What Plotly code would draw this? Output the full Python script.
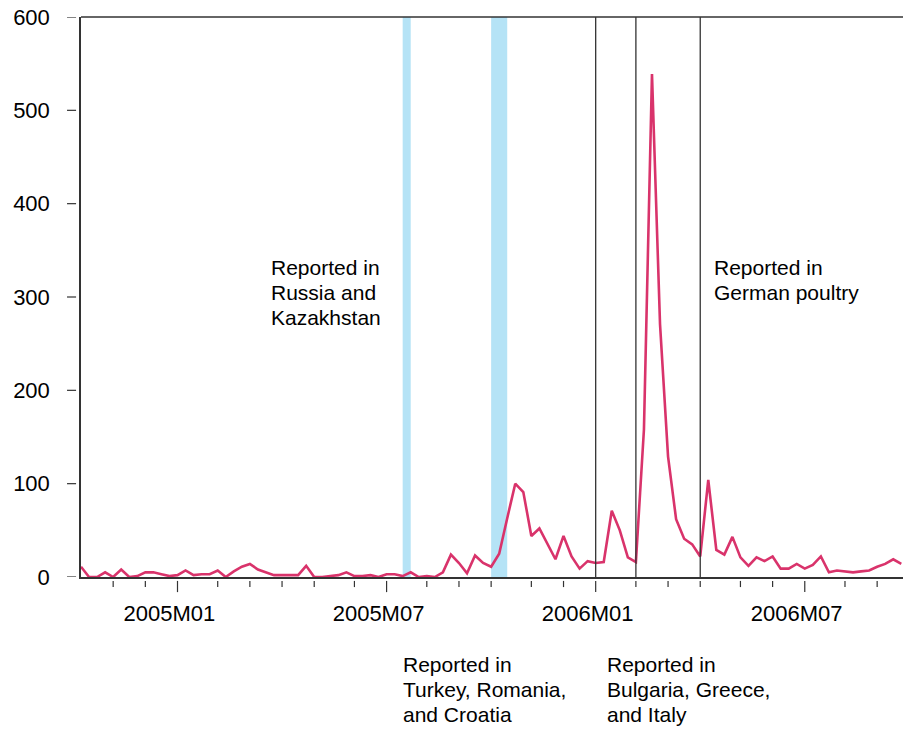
import pandas as pd
import plotly.graph_objects as go

# Weekly data (weeks starting Sunday), Oct 2004 - Sep 2006
start_week = "2004-10-10"
values = [11, 0, 0, 5, 0, 8, 0, 1, 5, 5, 3, 1, 2, 7, 2, 3, 3, 7, 0, 6,
          11, 14, 8, 5, 2, 2, 2, 2, 12, 0, 0, 1, 2, 5, 1, 1, 2, 0, 3, 3,
          1, 5, 0, 1, 0, 5, 24, 15, 4, 23, 15, 11, 25, 63, 100, 91, 44, 52, 36, 19,
          44, 22, 9, 17, 15, 16, 71, 50, 21, 16, 158, 539, 271, 129, 62, 41, 35, 22, 104, 29,
          24, 43, 21, 12, 21, 17, 22, 9, 9, 14, 9, 13, 22, 5, 7, 6, 5, 6, 7, 11,
          14, 19, 14]
dates = pd.date_range(start_week, periods=len(values), freq="7D")

month_ticks = ["2004-11-07", "2004-12-05", "2005-01-02", "2005-02-06", "2005-03-06",
               "2005-04-03", "2005-05-01", "2005-06-05", "2005-07-03", "2005-08-07",
               "2005-09-04", "2005-10-02", "2005-11-06", "2005-12-04", "2006-01-01",
               "2006-02-05", "2006-03-05", "2006-04-02", "2006-05-07", "2006-06-04",
               "2006-07-02", "2006-08-06", "2006-09-03"]
major_ticks = ["2005-01-02", "2005-07-03", "2006-01-01", "2006-07-02"]
major_labels = ["2005M01", "2005M07", "2006M01", "2006M07"]
y_ticks = [0, 100, 200, 300, 400, 500, 600]

bands = [("2005-07-17", "2005-07-24"), ("2005-10-02", "2005-10-16")]
event_lines = ["2006-01-01", "2006-02-05", "2006-04-02"]

notes = [
    (["Reported in", "Russia and", "Kazakhstan"], 0.2287, 0.552),
    (["Reported in", "German poultry"], 0.7676, 0.552),
    (["Reported in", "Turkey, Romania,", "and Croatia"], 0.3893, -0.157),
    (["Reported in", "Bulgaria, Greece,", "and Italy"], 0.6376, -0.157),
]
LINE_STEP = 25 / 560  # line spacing in paper units

FONT = "Liberation Sans, Arial, Helvetica, sans-serif"
AX = "#333333"

fig = go.Figure()
fig.add_trace(go.Scatter(x=dates, y=values, mode="lines",
                         line=dict(color="#D9336B", width=2.6),
                         hoverinfo="skip", showlegend=False, cliponaxis=False))

shapes = []
for a, b in bands:
    shapes.append(dict(type="rect", xref="x", yref="paper", x0=a, x1=b, y0=0, y1=1,
                       fillcolor="#B5E3F6", line=dict(width=0), layer="below"))
for d in event_lines:
    shapes.append(dict(type="line", xref="x", yref="paper", x0=d, x1=d, y0=0, y1=1,
                       line=dict(color=AX, width=1.3), layer="above"))
# top frame line
shapes.append(dict(type="line", xref="paper", yref="paper", x0=0, x1=1, y0=1, y1=1,
                   line=dict(color=AX, width=1.5)))
# detached tick marks
for t in month_ticks:
    ylo = -0.027 if t in major_ticks else -0.018
    shapes.append(dict(type="line", xref="x", yref="paper", x0=t, x1=t, y0=-0.007, y1=ylo,
                       line=dict(color=AX, width=1.2)))
for v in y_ticks:
    shapes.append(dict(type="line", xref="paper", yref="y", x0=-0.017, x1=-0.006, y0=v, y1=v,
                       line=dict(color=AX, width=1.2)))

annotations = []
for lines, x, y in notes:
    for k, t in enumerate(lines):
        annotations.append(dict(text=t, xref="paper", yref="paper", x=x, y=y - k * LINE_STEP,
                                xanchor="left", yanchor="middle", align="left",
                                showarrow=False,
                                font=dict(family=FONT, size=21, color="black")))

# labels sit slightly left of their tick (as in the original)
label_pos = [pd.Timestamp(t) - pd.Timedelta(days=7) for t in major_ticks]

fig.update_layout(
    width=903, height=730,
    margin=dict(l=81, r=0, t=17, b=153),
    paper_bgcolor="white", plot_bgcolor="white",
    font=dict(family=FONT, size=22, color="black"),
    shapes=shapes, annotations=annotations,
    xaxis=dict(range=["2004-10-10", "2006-09-25 12:00"], tickvals=label_pos,
               ticktext=major_labels, ticks="outside", ticklen=16,
               tickcolor="rgba(0,0,0,0)", showgrid=False, zeroline=False,
               showline=True, linecolor=AX, linewidth=1.5,
               tickfont=dict(size=22)),
    yaxis=dict(range=[0, 600], tickvals=y_ticks, ticks="outside", ticklen=25,
               tickcolor="rgba(0,0,0,0)", showgrid=False, zeroline=False,
               showline=True, linecolor=AX, linewidth=1.5,
               tickfont=dict(size=22)),
)

fig.write_html("out.html")
